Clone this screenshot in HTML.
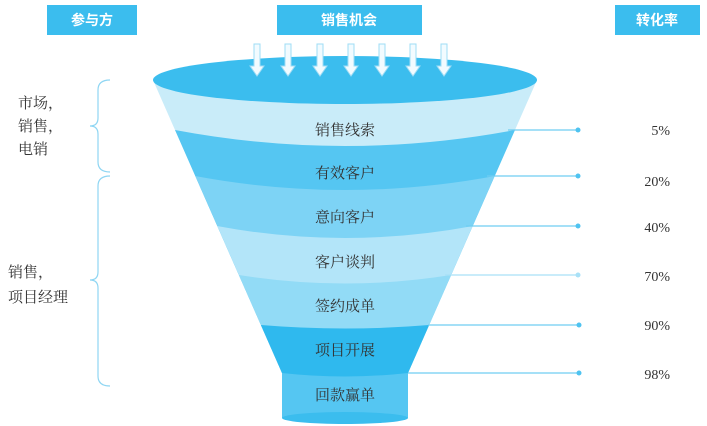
<!DOCTYPE html>
<html><head><meta charset="utf-8"><style>
html,body{margin:0;padding:0;background:#fff;width:707px;height:426px;overflow:hidden}
svg{display:block}
.h{font-family:"Liberation Sans","Noto Sans CJK SC",sans-serif;font-size:14px;font-weight:bold;fill:#fff}
.b{font-family:"Liberation Serif","Noto Serif CJK SC",serif;font-size:15px;fill:#333}
.p{font-family:"Liberation Serif","Noto Serif CJK SC",serif;font-size:14px;fill:#333}
</style></head><body>
<svg width="707" height="426" viewBox="0 0 707 426">
<defs>
<clipPath id="c"><path d="M153 80 L537 80 L408 373 L408 418 L282 418 L282 373 Z"/></clipPath>
</defs>
<rect x="47" y="5" width="90" height="30" fill="#3bbdee"/>
<text class="h" x="92" y="25" text-anchor="middle">参与方</text>
<rect x="277" y="5" width="145" height="30" fill="#3bbdee"/>
<text class="h" x="349" y="25" text-anchor="middle">销售机会</text>
<rect x="615" y="5" width="85" height="30" fill="#3bbdee"/>
<text class="h" x="657" y="25" text-anchor="middle">转化率</text>

<g clip-path="url(#c)">
<rect x="0" y="60" width="707" height="370" fill="#c9ecf9"/>
<path d="M175 130 Q345 162 515 130 L707 130 L707 430 L0 430 L0 130 Z" fill="#55c6f2"/>
<path d="M195 176 Q345 204 495 176 L707 176 L707 430 L0 430 L0 176 Z" fill="#7dd3f5"/>
<path d="M217 226 Q345 250 473 226 L707 226 L707 430 L0 430 L0 226 Z" fill="#b3e5f9"/>
<path d="M239 275 Q345 292 451 275 L707 275 L707 430 L0 430 L0 275 Z" fill="#92dbf6"/>
<path d="M261 325 Q345 332 429 325 L707 325 L707 430 L0 430 L0 325 Z" fill="#2fb9ee"/>
<path d="M282 373 Q345 380 408 373 L707 373 L707 430 L0 430 L0 373 Z" fill="#55c6f2"/>
</g>
<ellipse cx="345" cy="418" rx="63" ry="6" fill="#3bbdee"/>
<ellipse cx="345" cy="80" rx="192" ry="24" fill="#3bbdee"/>

<g fill="#f2fbff" stroke="#9fdcf5" stroke-width="1">
<path d="M254 44 h6 v22 h4 l-7 10 l-7 -10 h4 z" transform="translate(0,0)"/>
<path d="M254 44 h6 v22 h4 l-7 10 l-7 -10 h4 z" transform="translate(31,0)"/>
<path d="M254 44 h6 v22 h4 l-7 10 l-7 -10 h4 z" transform="translate(63,0)"/>
<path d="M254 44 h6 v22 h4 l-7 10 l-7 -10 h4 z" transform="translate(94,0)"/>
<path d="M254 44 h6 v22 h4 l-7 10 l-7 -10 h4 z" transform="translate(125,0)"/>
<path d="M254 44 h6 v22 h4 l-7 10 l-7 -10 h4 z" transform="translate(156,0)"/>
<path d="M254 44 h6 v22 h4 l-7 10 l-7 -10 h4 z" transform="translate(187,0)"/>
</g>

<text class="b" x="345" y="135" text-anchor="middle">销售线索</text>
<text class="b" x="345" y="178" text-anchor="middle">有效客户</text>
<text class="b" x="345" y="222" text-anchor="middle">意向客户</text>
<text class="b" x="345" y="267" text-anchor="middle">客户谈判</text>
<text class="b" x="345" y="311" text-anchor="middle">签约成单</text>
<text class="b" x="345" y="355" text-anchor="middle">项目开展</text>
<text class="b" x="345" y="400" text-anchor="middle">回款赢单</text>

<g stroke="#6fcdf2" stroke-width="1.3" fill="#4fc3f0">
<line x1="508" y1="130" x2="578" y2="130"/><circle cx="578" cy="130" r="2.5" stroke="none"/>
<line x1="487" y1="176" x2="578" y2="176"/><circle cx="578" cy="176" r="2.5" stroke="none"/>
<line x1="466" y1="226" x2="578" y2="226"/><circle cx="578" cy="226" r="2.5" stroke="none"/>
<line x1="445" y1="275" x2="578" y2="275" stroke="#a9e1f7"/><circle cx="578" cy="275" r="2.5" stroke="none" fill="#a9e1f7"/>
<line x1="428" y1="325" x2="579" y2="325"/><circle cx="579" cy="325" r="2.5" stroke="none"/>
<line x1="408" y1="373" x2="579" y2="373"/><circle cx="579" cy="373" r="2.5" stroke="none"/>
</g>
<text class="p" x="670" y="135" text-anchor="end">5%</text>
<text class="p" x="670" y="186" text-anchor="end">20%</text>
<text class="p" x="670" y="232" text-anchor="end">40%</text>
<text class="p" x="670" y="281" text-anchor="end">70%</text>
<text class="p" x="670" y="330" text-anchor="end">90%</text>
<text class="p" x="670" y="379" text-anchor="end">98%</text>

<g fill="none" stroke="#8fd6f3" stroke-width="1.2">
<path d="M110 80 Q98 80 98 90 L98 118 Q98 126 90 126 Q98 126 98 134 L98 162 Q98 172 110 172"/>
<path d="M110 176 Q98 176 98 186 L98 272 Q98 280 90 280 Q98 280 98 288 L98 376 Q98 386 110 386"/>
</g>
<text class="b" x="18" y="108">市场，</text>
<text class="b" x="18" y="131">销售，</text>
<text class="b" x="18" y="154">电销</text>
<text class="b" x="8" y="277">销售，</text>
<text class="b" x="8" y="302">项目经理</text>
</svg>
</body></html>
